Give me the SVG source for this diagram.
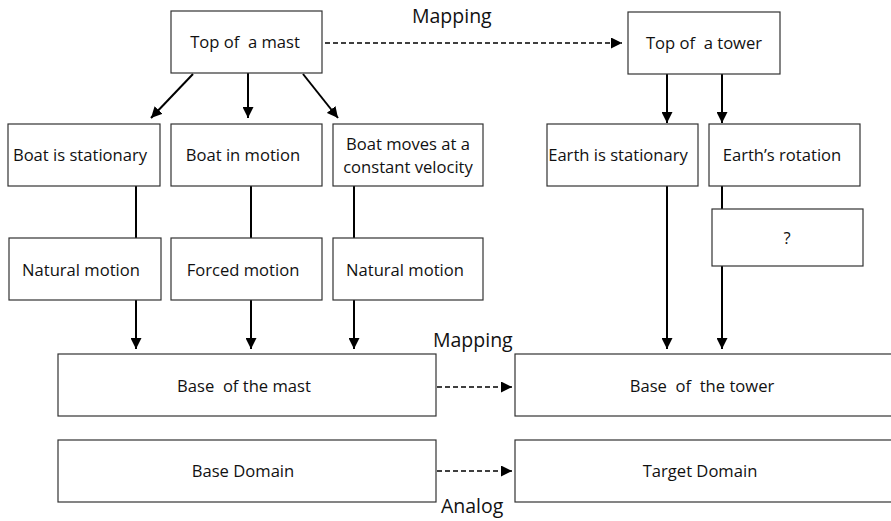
<svg xmlns="http://www.w3.org/2000/svg" width="891" height="521" viewBox="0 0 891 521">
<style>
.box{fill:#fff;stroke:#333;stroke-width:1.2}
.t{font-family:"Open Sans","Noto Sans",sans-serif;font-size:16.6px;fill:#111;text-anchor:middle;white-space:pre}
.lbl{font-family:"Open Sans","Noto Sans",sans-serif;font-size:19.5px;fill:#111;text-anchor:start}
.ln{stroke:#000;stroke-width:2;fill:none}
.ar{stroke:#000;stroke-width:2;fill:none;marker-end:url(#ah)}
.da{stroke:#000;stroke-width:1.6;fill:none;stroke-dasharray:5 3;marker-end:url(#ah)}
</style>
<defs>
<marker id="ah" markerUnits="userSpaceOnUse" viewBox="0 0 10 10" refX="10" refY="5" markerWidth="11" markerHeight="11" orient="auto">
<path d="M0,0 L10,5 L0,10 z" fill="#000"/>
</marker>
</defs>
<rect width="891" height="521" fill="#fff"/>
<g id="connectors">
<line class="ar" x1="193" y1="74" x2="151" y2="118"/>
<line class="ar" x1="248" y1="73" x2="248" y2="118"/>
<line class="ar" x1="303" y1="74" x2="338" y2="118"/>
<line class="da" x1="325" y1="43" x2="622" y2="43"/>
<line class="ar" x1="667" y1="74" x2="667" y2="123"/>
<line class="ar" x1="722" y1="74" x2="722" y2="123"/>
<line class="ln" x1="136" y1="186" x2="136" y2="238"/>
<line class="ln" x1="251" y1="186" x2="251" y2="238"/>
<line class="ln" x1="354" y1="186" x2="354" y2="238"/>
<line class="ar" x1="136" y1="300" x2="136" y2="349"/>
<line class="ar" x1="251" y1="300" x2="251" y2="349"/>
<line class="ar" x1="354" y1="300" x2="354" y2="349"/>
<line class="ar" x1="667" y1="186" x2="667" y2="349"/>
<line class="ln" x1="722" y1="186" x2="722" y2="209"/>
<line class="ar" x1="722" y1="266" x2="722" y2="349"/>
<line class="da" x1="437" y1="387" x2="512" y2="387"/>
<line class="da" x1="437" y1="471" x2="512" y2="471"/>
</g>
<g id="labels">
<text class="lbl" x="412" y="23">Mapping</text>
<text class="lbl" x="433" y="347">Mapping</text>
<text class="lbl" x="441" y="513">Analog</text>
</g>
<g id="top-mast"><rect class="box" x="171" y="11" width="151" height="62"/><text class="t" x="245" y="48">Top of  a mast</text></g>
<g id="top-tower"><rect class="box" x="628" y="12" width="152" height="62"/><text class="t" x="704" y="49">Top of  a tower</text></g>
<g id="boat-stationary"><rect class="box" x="8" y="124" width="152" height="62"/><text class="t" x="80" y="161">Boat is stationary</text></g>
<g id="boat-motion"><rect class="box" x="171" y="124" width="151" height="62"/><text class="t" x="243" y="161">Boat in motion</text></g>
<g id="boat-constant"><rect class="box" x="333" y="124" width="150" height="62"/><text class="t" x="408" y="150">Boat moves at a</text><text class="t" x="408" y="173">constant velocity</text></g>
<g id="earth-stationary"><rect class="box" x="547" y="124" width="151" height="62"/><text class="t" x="618" y="161">Earth is stationary</text></g>
<g id="earth-rotation"><rect class="box" x="709" y="124" width="151" height="62"/><text class="t" x="782" y="161">Earth’s rotation</text></g>
<g id="question"><rect class="box" x="712" y="209" width="151" height="57"/><text class="t" x="787" y="244">?</text></g>
<g id="natural1"><rect class="box" x="9" y="238" width="152" height="62"/><text class="t" x="81" y="276">Natural motion</text></g>
<g id="forced"><rect class="box" x="171" y="238" width="151" height="62"/><text class="t" x="243" y="276">Forced motion</text></g>
<g id="natural2"><rect class="box" x="333" y="238" width="150" height="62"/><text class="t" x="405" y="276">Natural motion</text></g>
<g id="base-mast"><rect class="box" x="58" y="354" width="378" height="62"/><text class="t" x="244" y="392">Base  of the mast</text></g>
<g id="base-tower"><rect class="box" x="515" y="354" width="390" height="62"/><text class="t" x="702" y="392">Base  of  the tower</text></g>
<g id="base-domain"><rect class="box" x="58" y="440" width="378" height="62"/><text class="t" x="243" y="477">Base Domain</text></g>
<g id="target-domain"><rect class="box" x="515" y="440" width="390" height="62"/><text class="t" x="700" y="477">Target Domain</text></g>
</svg>
